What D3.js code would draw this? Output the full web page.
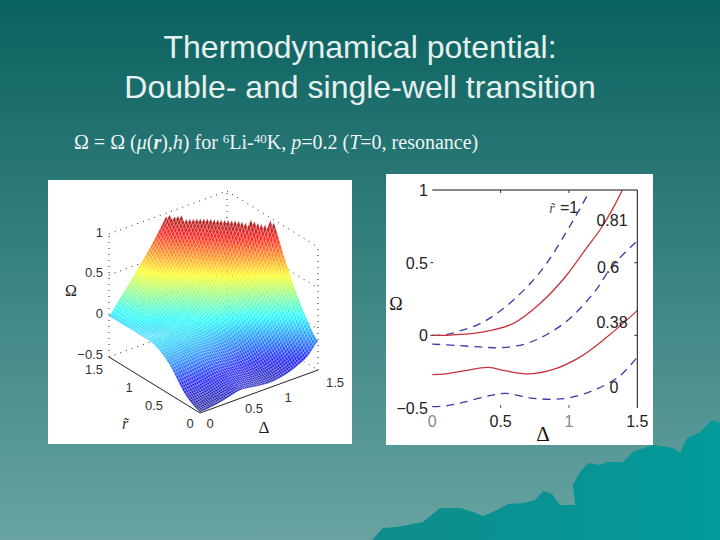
<!DOCTYPE html>
<html>
<head>
<meta charset="utf-8">
<script src="https://cdn.jsdelivr.net/npm/d3@7"></script>
<style>
html, body { margin: 0; padding: 0; background: #0a6260; }
svg { display: block; }
text { font-family: "Liberation Sans", Arial, sans-serif; }
</style>
</head>
<body>
<script>
const width = 720;
const height = 540;

// --- curves of the right hand plot
const curveLabels = ["1", "0.81", "0.6", "0.38", "0"];
const curveDelta = [
  [0, 0.1, 0.2, 0.35, 0.47, 0.59, 0.72, 0.84, 0.98, 1.08, 1.146],
  [0, 0.1, 0.35, 0.59, 0.79, 0.98, 1.12, 1.23, 1.32, 1.39],
  [0, 0.18, 0.35, 0.5, 0.71, 0.96, 1.18, 1.32, 1.5],
  [0, 0.1, 0.23, 0.41, 0.54, 0.71, 0.885, 1.08, 1.28, 1.5],
  [0, 0.1, 0.23, 0.42, 0.54, 0.71, 0.885, 1, 1.2, 1.37, 1.5]
];
const curveOmega = [
  [0, 0.005, 0.03, 0.08, 0.15, 0.24, 0.36, 0.5, 0.71, 0.87, 0.985],
  [0, 0, 0.02, 0.08, 0.22, 0.41, 0.59, 0.73, 0.87, 1],
  [-0.06, -0.07, -0.08, -0.085, -0.05, 0.08, 0.29, 0.48, 0.65],
  [-0.27, -0.265, -0.245, -0.22, -0.245, -0.265, -0.235, -0.15, -0.01, 0.17],
  [-0.49, -0.485, -0.46, -0.415, -0.4, -0.43, -0.44, -0.43, -0.37, -0.28, -0.15]
];
const curveColors = ["#3a3aa8", "#c8323c", "#3a3aa8", "#c8323c", "#3a3aa8"];
const curveDashed = [true, false, true, false, true];

// --- surface of the left hand plot: omega per r (rows) and delta (columns)
const surfaceR = [0, 0.25, 0.5, 0.75, 1, 1.25, 1.5];
const surfaceDelta = [0, 0.125, 0.25, 0.375, 0.5, 0.625, 0.75, 0.875, 1, 1.125, 1.25, 1.375, 1.5];
const surfaceOmega = [
  [-0.49, -0.48, -0.46, -0.43, -0.40, -0.41, -0.43, -0.44, -0.43, -0.40, -0.35, -0.28, -0.15],
  [-0.38, -0.37, -0.35, -0.32, -0.31, -0.32, -0.33, -0.32, -0.28, -0.22, -0.13, -0.02, 0.12],
  [-0.14, -0.13, -0.12, -0.11, -0.12, -0.13, -0.12, -0.08, -0.01, 0.08, 0.20, 0.34, 0.52],
  [-0.01, -0.01, 0, 0.01, 0.03, 0.07, 0.14, 0.22, 0.33, 0.46, 0.62, 0.80, 1.02],
  [0, 0, 0.02, 0.07, 0.14, 0.24, 0.36, 0.52, 0.70, 0.90, 1.12, 1.35, 1.60],
  [0, 0.08, 0.18, 0.30, 0.42, 0.56, 0.72, 0.90, 1.10, 1.30, 1.50, 1.70, 1.90],
  [0, 0.15, 0.30, 0.46, 0.62, 0.80, 1.00, 1.20, 1.40, 1.60, 1.80, 2.00, 2.20]
];

const omegaTicks = [-0.5, 0, 0.5, 1];
const axisTicks = [0, 0.5, 1, 1.5];

// outline of the mountains in the corner of the slide
const mountain = [[372, 540], [383, 528], [397, 527], [423, 522], [440, 508], [460, 508], [473, 512], [483, 516],
  [497, 510], [508, 504], [523, 503], [535, 500], [543, 491], [552, 494], [560, 505], [575, 505], [573, 485],
  [580, 472], [588, 463], [600, 465], [607, 462], [623, 462], [633, 452], [653, 445], [673, 448], [680, 453],
  [687, 438], [700, 432], [712, 420], [720, 423], [720, 540]];

const svg = d3.select("body").append("svg")
  .attr("width", width)
  .attr("height", height);

// background
const defs = svg.append("defs");
const bg = defs.append("linearGradient").attr("id", "bg")
  .attr("x1", 0).attr("y1", 0).attr("x2", 0).attr("y2", 1);
bg.append("stop").attr("offset", 0).attr("stop-color", "#0a6260");
bg.append("stop").attr("offset", 1).attr("stop-color", "#68a3a1");
const hill = defs.append("linearGradient").attr("id", "hill")
  .attr("x1", 0).attr("y1", 0).attr("x2", 1).attr("y2", 0);
hill.append("stop").attr("offset", 0).attr("stop-color", "#0f8c8c");
hill.append("stop").attr("offset", 1).attr("stop-color", "#039a9a");

svg.append("rect").attr("width", width).attr("height", height).attr("fill", "url(#bg)");
svg.append("path").attr("d", d3.line()(mountain) + "Z").attr("fill", "url(#hill)");

// titles
const titleLines = ["Thermodynamical potential:", "Double- and single-well transition"];
svg.selectAll(".title").data(titleLines).join("text")
  .attr("class", "title")
  .attr("x", 360)
  .attr("y", (d, i) => 58 + i * 40)
  .attr("text-anchor", "middle")
  .attr("fill", "#e6f0ef")
  .style("font-size", "32px")
  .text(d => d);

const sub = svg.append("text")
  .attr("x", 74).attr("y", 149)
  .attr("fill", "#eef5f4")
  .style("font-family", "'Liberation Serif', serif")
  .style("font-size", "20px");
[
  ["Ω = Ω ("], ["μ", "i"], ["("], ["r", "bi"], ["),"], ["h", "i"], [") for "], ["6", "sup"], ["Li-"], ["40", "sup"],
  ["K, "], ["p", "i"], ["=0.2 ("], ["T", "i"], ["=0, resonance)"]
].forEach(([t, kind]) => {
  const ts = sub.append("tspan").text(t);
  if (kind === "i" || kind === "bi") ts.style("font-style", "italic");
  if (kind === "bi") ts.style("font-weight", "bold");
  if (kind === "sup") ts.attr("dy", -6).style("font-size", "13px");
  else if (t === "Li-" || t === "K, ") ts.attr("dy", 6);
});

// ---------- left panel, 3D surface
svg.append("rect").attr("x", 48).attr("y", 180).attr("width", 304).attr("height", 264).attr("fill", "white");

// each axis of the box is a pair of screen scales
const deltaX = d3.scaleLinear().domain([0, 1.5]).range([0, 118]);
const deltaY = d3.scaleLinear().domain([0, 1.5]).range([0, -43]);
const rX = d3.scaleLinear().domain([0, 1.5]).range([0, -91]);
const rY = d3.scaleLinear().domain([0, 1.5]).range([0, -56]);
const omegaY = d3.scaleLinear().domain([-0.5, 1]).range([0, -123]);
const originX = 200, originY = 413;

function project(r, delta, omega) {
  return [originX + deltaX(delta) + rX(r), originY + deltaY(delta) + rY(r) + omegaY(omega)];
}

const left = svg.append("g");

function boxLine(a, b, dashed) {
  const p = project(...a), q = project(...b);
  left.append("line")
    .attr("x1", p[0]).attr("y1", p[1]).attr("x2", q[0]).attr("y2", q[1])
    .attr("stroke", "#222")
    .attr("stroke-width", 1)
    .attr("stroke-dasharray", dashed ? "1 5" : null);
}

// dotted walls at the back of the box
omegaTicks.forEach(w => {
  boxLine([1.5, 0, w], [1.5, 1.5, w], true);
  boxLine([1.5, 1.5, w], [0, 1.5, w], true);
});
boxLine([1.5, 1.5, -0.5], [1.5, 1.5, 1], true);
boxLine([0, 1.5, -0.5], [0, 1.5, 1], true);
boxLine([1.5, 0, -0.5], [1.5, 0, 1], true);

// solid floor axes
boxLine([1.5, 0, -0.5], [0, 0, -0.5], false);
boxLine([0, 0, -0.5], [0, 1.5, -0.5], false);

// jet colormap from the matlab figure
const jetStops = ["#00007f", "#0000ff", "#007fff", "#00ffff", "#7fff7f", "#ffff00", "#ff7f00", "#ff0000", "#7f0000"];
const jet = d3.scaleLinear()
  .domain(d3.range(jetStops.length).map(i => -0.5 + 1.5 * i / (jetStops.length - 1)))
  .range(jetStops)
  .clamp(true);

// the mesh is drawn finer than the read values, smoothed like a curve through points
function spline(values, t) {
  const n = values.length - 1;
  const i = Math.min(Math.floor(t * n), n - 1);
  const u = t * n - i;
  const p0 = values[Math.max(i - 1, 0)], p1 = values[i], p2 = values[i + 1], p3 = values[Math.min(i + 2, n)];
  return 0.5 * (2 * p1 + (p2 - p0) * u + (2 * p0 - 5 * p1 + 4 * p2 - p3) * u * u + (3 * p1 - p0 - 3 * p2 + p3) * u * u * u);
}

function surfaceAt(tr, td) {
  return spline(surfaceOmega.map(row => spline(row, td)), tr);
}

const meshSteps = 60;
const cells = [];
for (let i = meshSteps - 1; i >= 0; i--) {
  for (let j = meshSteps - 1; j >= 0; j--) {
    const corners = [[i, j], [i + 1, j], [i + 1, j + 1], [i, j + 1]].map(([a, b]) => {
      const r = 1.5 * a / meshSteps, d = 1.5 * b / meshSteps;
      return { r, d, w: surfaceAt(a / meshSteps, b / meshSteps) };
    });
    if (d3.max(corners, c => c.w) > 1) continue;
    cells.push(corners);
  }
}

left.append("g").selectAll("path").data(cells).join("path")
  .attr("d", c => d3.line()(c.map(p => project(p.r, p.d, p.w))) + "Z")
  .attr("fill", c => jet(d3.mean(c, p => p.w)))
  .attr("fill-opacity", 0.85)
  .attr("stroke", "#ffffff")
  .attr("stroke-opacity", 0.4)
  .attr("stroke-width", 0.5);

const leftText = "#333";
function leftLabel(px, py, t, anchor) {
  return left.append("text").attr("x", px).attr("y", py)
    .attr("text-anchor", anchor || "middle")
    .attr("fill", leftText)
    .style("font-size", "13px")
    .text(t);
}
const omegaBase = [359, 318, 277, 237];
omegaTicks.forEach((w, i) => leftLabel(103, omegaBase[i], w < 0 ? "−" + Math.abs(w) : String(w), "end"));
const rLabelPos = [[190, 428], [154, 410], [129, 392], [94, 374]];
axisTicks.forEach((t, i) => leftLabel(rLabelPos[i][0], rLabelPos[i][1], String(t)));
const dLabelPos = [[210, 428], [254, 413], [288, 402], [335, 387]];
axisTicks.forEach((t, i) => leftLabel(dLabelPos[i][0], dLabelPos[i][1], String(t)));

left.append("text").attr("x", 71).attr("y", 296).attr("text-anchor", "middle")
  .attr("fill", "#222").style("font-family", "'Liberation Serif', serif").style("font-size", "16px").text("Ω");
left.append("text").attr("x", 264).attr("y", 433).attr("text-anchor", "middle")
  .attr("fill", "#222").style("font-family", "'Liberation Serif', serif").style("font-size", "17px").text("Δ");
left.append("text").attr("x", 125).attr("y", 429).attr("text-anchor", "middle")
  .attr("fill", "#333").style("font-family", "'Liberation Serif', serif").style("font-style", "italic").style("font-size", "16px").text("r\u0303");

// ---------- right panel, 2D curves
svg.append("rect").attr("x", 386).attr("y", 174).attr("width", 267).attr("height", 271).attr("fill", "white");

const x = d3.scaleLinear().domain([0, 1.5]).range([432.3, 637.3]);
const y = d3.scaleLinear().domain([-0.5, 1]).range([408, 190]);
const right = svg.append("g");

const line = d3.line()
  .x(d => x(d[0]))
  .y(d => y(d[1]))
  .curve(d3.curveCatmullRom);

curveLabels.forEach((name, i) => {
  right.append("path")
    .datum(curveDelta[i].map((d, k) => [d, curveOmega[i][k]]))
    .attr("d", line)
    .attr("fill", "none")
    .attr("stroke", curveColors[i])
    .attr("stroke-width", 1.3)
    .attr("stroke-dasharray", curveDashed[i] ? "8 6" : null);
});

// box: top and right edges, ticks pointing in
right.append("path")
  .attr("d", `M${x(0)},${y(1)}H${x(1.5)}V${y(-0.5)}`)
  .attr("fill", "none").attr("stroke", "#111").attr("stroke-width", 1);
[0, 0.5].forEach(w => {
  right.append("line").attr("x1", x(0) - 2).attr("x2", x(0) + 1).attr("y1", y(w)).attr("y2", y(w)).attr("stroke", "#333");
  right.append("line").attr("x1", x(1.5) - 3).attr("x2", x(1.5)).attr("y1", y(w)).attr("y2", y(w)).attr("stroke", "#333");
});
[0.5, 1].forEach(d => {
  right.append("line").attr("x1", x(d)).attr("x2", x(d)).attr("y1", y(1)).attr("y2", y(1) + 3).attr("stroke", "#333");
  right.append("line").attr("x1", x(d)).attr("x2", x(d)).attr("y1", y(-0.5) - 3).attr("y2", y(-0.5)).attr("stroke", "#555");
});

function rightText(px, py, t, anchor, fill) {
  return right.append("text").attr("x", px).attr("y", py)
    .attr("text-anchor", anchor || "middle")
    .attr("fill", fill || "#222")
    .style("font-size", "16px")
    .text(t);
}
omegaTicks.forEach(w => rightText(428, y(w) + 6, w < 0 ? "−" + Math.abs(w) : String(w), "end"));
axisTicks.forEach(d => rightText(x(d), 427, String(d), "middle", d === 0 || d === 1 ? "#888" : "#222"));

const annotation = [[612, 226], [608, 273], [612, 328], [614, 393]];
curveLabels.slice(1).forEach((name, i) => rightText(annotation[i][0], annotation[i][1], name));
rightText(569, 213, "=1");
right.append("text").attr("x", 552).attr("y", 213).attr("text-anchor", "middle").attr("fill", "#444")
  .style("font-family", "'Liberation Serif', serif").style("font-style", "italic").style("font-size", "14px").text("r\u0303");
right.append("text").attr("x", 396).attr("y", 310).attr("text-anchor", "middle").attr("fill", "#222")
  .style("font-family", "'Liberation Serif', serif").style("font-size", "18px").text("Ω");
right.append("text").attr("x", 543).attr("y", 441).attr("text-anchor", "middle").attr("fill", "#111")
  .style("font-family", "'Liberation Serif', serif").style("font-size", "21px").text("Δ");
</script>
</body>
</html>
